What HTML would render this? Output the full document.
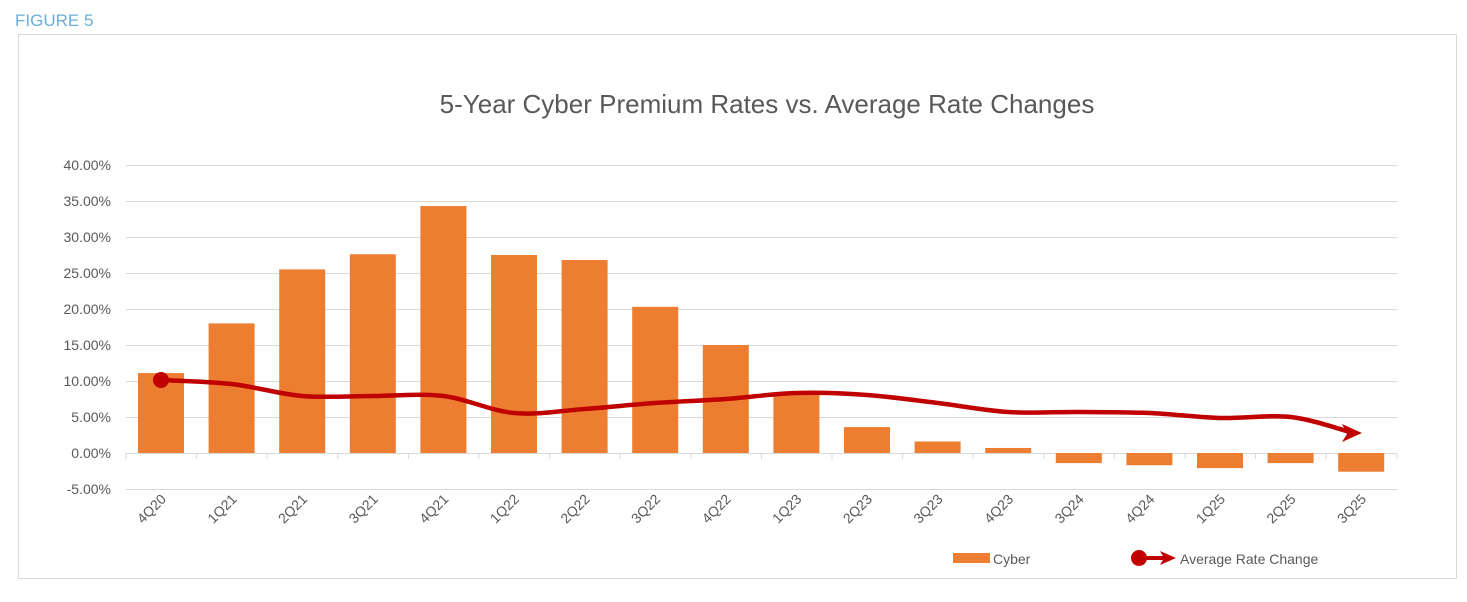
<!DOCTYPE html>
<html><head><meta charset="utf-8"><style>
body{margin:0;background:#fff;width:1467px;height:597px;overflow:hidden;font-family:"Liberation Sans",sans-serif}
</style></head><body>
<svg id="s" width="1467" height="597" xmlns="http://www.w3.org/2000/svg" font-family="Liberation Sans, sans-serif">
<text x="15" y="26" font-size="17" fill="#6aaed6">FIGURE 5</text>
<rect x="18.5" y="34.5" width="1438" height="544" fill="none" stroke="#d9d9d9"/>
<text x="767" y="113" font-size="26" fill="#595959" text-anchor="middle">5-Year Cyber Premium Rates vs. Average Rate Changes</text>
<g id="grid"></g>
<g id="bars"></g>
<g id="lbl"></g>
<path id="ln" fill="none" stroke="#c00000" stroke-width="4.5"/>
<polygon points="1362,433 1342,424 1347,434 1342,442" fill="#c00000"/>
<circle cx="161" cy="380" r="8" fill="#c00000"/>
<rect x="953" y="553" width="37" height="10" fill="#ed7d31"/>
<text x="993" y="564" font-size="14" fill="#595959">Cyber</text>
<line x1="1138" y1="558" x2="1165" y2="558" stroke="#c00000" stroke-width="4"/>
<polygon points="1176,558 1160,551 1164,558 1160,565" fill="#c00000"/>
<circle cx="1139" cy="558" r="8" fill="#c00000"/>
<text x="1180" y="564" font-size="14" fill="#595959">Average Rate Change</text>
</svg>
<script>
var ns="http://www.w3.org/2000/svg";
function el(p,t,a,txt){var e=document.createElementNS(ns,t);for(var k in a)e.setAttribute(k,a[k]);if(txt)e.textContent=txt;document.getElementById(p).appendChild(e);return e;}
var y0=453,pp=7.2;
for(var v=-5;v<=40;v+=5){var y=y0-v*pp;
 if(v!=0)el("grid","line",{x1:126,x2:1397,y1:y+.5,y2:y+.5,stroke:"#d9d9d9"});
 el("grid","text",{x:111,y:y+5,"font-size":14,fill:"#595959","text-anchor":"end"},v.toFixed(2)+"%");}
var labs=["4Q20","1Q21","2Q21","3Q21","4Q21","1Q22","2Q22","3Q22","4Q22","1Q23","2Q23","3Q23","4Q23","3Q24","4Q24","1Q25","2Q25","3Q25"];
var vals=[11.1,18,25.5,27.6,34.3,27.5,26.8,20.3,15,8.4,3.6,1.6,0.7,-1.4,-1.7,-2.1,-1.4,-2.6];
var sp=70.6;
for(var i=0;i<18;i++){var c=161+sp*i,h=vals[i]*pp;
 el("bars","rect",{x:c-23,y:h>0?y0-h:y0,width:46,height:Math.abs(h),fill:"#ed7d31"});
 el("lbl","text",{x:c+6,y:500,"font-size":14,fill:"#595959","text-anchor":"end",transform:"rotate(-45 "+(c+6)+" 500)"},labs[i]);}
el("grid","line",{x1:126,x2:1397,y1:y0+.5,y2:y0+.5,stroke:"#d9d9d9"});
for(var i=0;i<=18;i++){var x=126+sp*i;el("grid","line",{x1:x,x2:x,y1:y0,y2:y0+6,stroke:"#d9d9d9"});}
var ly=[380,384,396,396,396,413,409,403,399,393,395,403,412,412,413,418,417,432];
var P=ly.map(function(y,i){return [161+sp*i,y]});P[17][0]=1350;
var d="M"+P[0];
for(var i=0;i<P.length-1;i++){var p0=P[i>0?i-1:i],p1=P[i],p2=P[i+1],p3=P[i+2<P.length?i+2:i+1];
 var c1=[p1[0]+(p2[0]-p0[0])/6,p1[1]+(p2[1]-p0[1])/6],c2=[p2[0]-(p3[0]-p1[0])/6,p2[1]-(p3[1]-p1[1])/6];
 d+=" C"+c1+" "+c2+" "+p2;}
document.getElementById("ln").setAttribute("d",d);
</script>
</body></html>
